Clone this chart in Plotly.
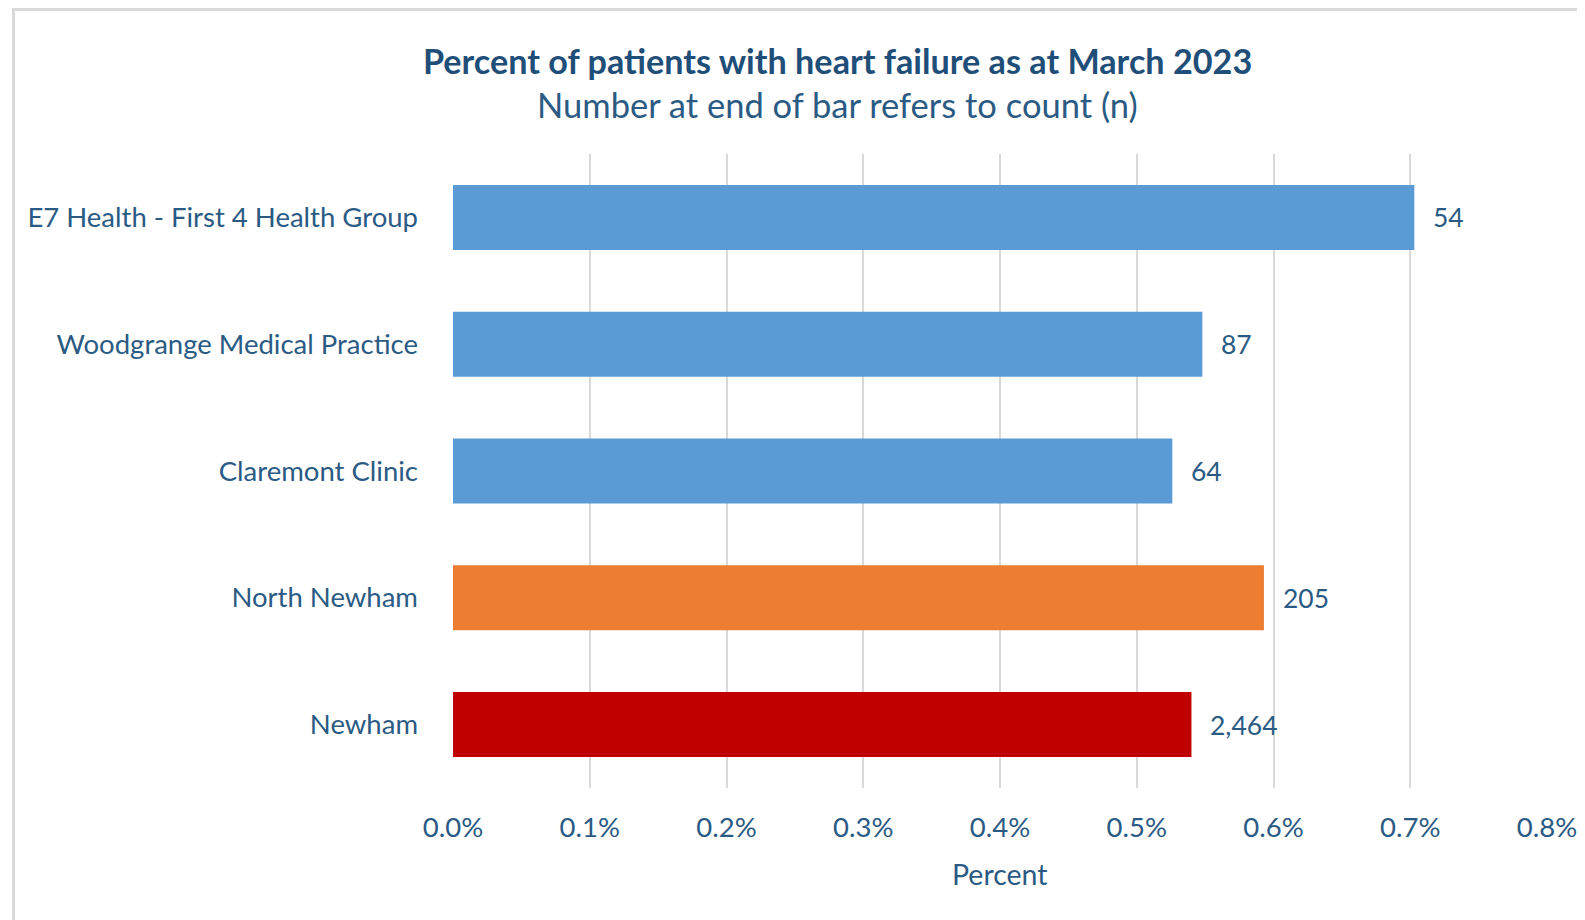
import plotly.graph_objects as go

categories = ["E7 Health - First 4 Health Group", "Woodgrange Medical Practice",
              "Claremont Clinic", "North Newham", "Newham"]
percent_values = [0.703, 0.548, 0.526, 0.593, 0.540]
counts = ["54", "87", "64", "205", "2,464"]
bar_colors = ["#5B9BD5", "#5B9BD5", "#5B9BD5", "#ED7D31", "#C00000"]
tick_values = [0.0, 0.1, 0.2, 0.3, 0.4, 0.5, 0.6, 0.7, 0.8]
tick_labels = ["0.0%", "0.1%", "0.2%", "0.3%", "0.4%", "0.5%", "0.6%", "0.7%", "0.8%"]

OFF = 8  # page body margin
W, H = 1585 - OFF, 920 - OFF
L, R, T, B = 453 - OFF, 1547 - OFF, 154 - OFF, 788 - OFF
FONT = "Lato"
TXT = "#2B5B84"
TITLE = "#1F4E79"

def px(x):
    return (x - OFF - L) / (R - L)

def py(y):
    return (B - (y - OFF)) / (B - T)

fig = go.Figure()
fig.add_trace(go.Bar(
    x=percent_values, y=categories, orientation="h",
    marker=dict(color=bar_colors, line=dict(width=0)),
    width=0.513, hoverinfo="skip",
))

annotations = []
for v, c, n in zip(percent_values, categories, counts):
    annotations.append(dict(x=v, y=c, xref="x", yref="y", text=n, showarrow=False,
                            xanchor="left", yanchor="middle", xshift=17,
                            font=dict(family=FONT, size=26.5, color=TXT)))
annotations.append(dict(x=px(837), y=py(60), xref="paper", yref="paper",
                        text="<b>Percent of patients with heart failure as at March 2023</b>",
                        showarrow=False, xanchor="center", yanchor="middle",
                        font=dict(family=FONT, size=34.2, color=TITLE)))
annotations.append(dict(x=px(837), y=py(104), xref="paper", yref="paper",
                        text="Number at end of bar refers to count (n)",
                        showarrow=False, xanchor="center", yanchor="middle",
                        font=dict(family=FONT, size=34.5, color=TXT)))
annotations.append(dict(x=0.5, y=py(874), xref="paper", yref="paper",
                        text="Percent", showarrow=False, xanchor="center", yanchor="middle",
                        font=dict(family=FONT, size=28.5, color=TXT)))

fig.update_layout(
    width=W, height=H, autosize=False,
    margin=dict(l=L, r=W - R, t=T, b=H - B, pad=0, autoexpand=False),
    paper_bgcolor="white", plot_bgcolor="white",
    showlegend=False,
    annotations=annotations,
    shapes=[dict(type="rect", xref="paper", yref="paper",
                 x0=px(13.5), x1=px(1620), y0=py(960), y1=py(9.5),
                 line=dict(color="#D9D9D9", width=3), layer="below")],
    xaxis=dict(range=[0, 0.8], tickvals=tick_values, ticktext=tick_labels,
               showgrid=True, gridcolor="#D9D9D9", gridwidth=2,
               zeroline=False, showline=False, ticks="", automargin=False,
               ticklabelstandoff=20,
               tickfont=dict(family=FONT, size=27.5, color=TXT)),
    yaxis=dict(autorange="reversed", showgrid=False, zeroline=False,
               showline=False, ticks="", ticklabelstandoff=34, automargin=False,
               tickfont=dict(family=FONT, size=27.5, color=TXT)),
)

fig.write_html("out.html")
